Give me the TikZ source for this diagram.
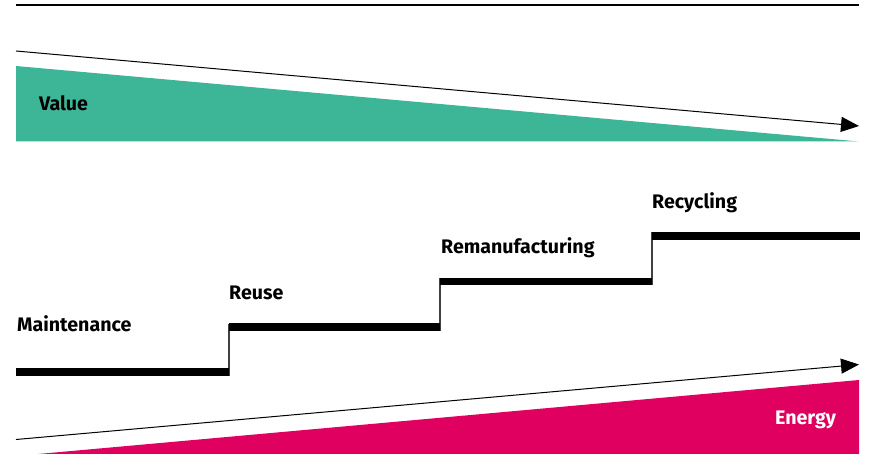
\documentclass[tikz,border=0pt]{standalone}
\usepackage{fontspec}
\setmainfont{Fira Sans}
\usetikzlibrary{arrows.meta}
\definecolor{teal}{HTML}{3DB698}
\definecolor{pink}{HTML}{E0005F}
\tikzset{
  lbl/.style={anchor=base west, inner sep=0pt, font=\fontsize{19.6}{19.6}\selectfont\bfseries},
  stepline/.style={line width=7.5pt},
  riser/.style={line width=1.6pt, black!75},
  trend/.style={line width=1pt, -{Triangle[length=18pt,width=15pt]}},
}
\begin{document}
\begin{tikzpicture}[x=1pt,y=-1pt]
\useasboundingbox (0,0) rectangle (869,454);
\begin{scope}
\clip (0,0) rectangle (869,454);
% top rule
\coordinate (r1) at (16,5.5);
\coordinate (r2) at (859,5.5);
\draw[line width=2pt] (r1) -- (r2);
% value
\fill[teal] (16,66) -- (859,141.5) -- (16,141.5) -- cycle;
\coordinate (va) at (16,51);
\coordinate (vb) at (859,126);
\draw[trend] (va) -- (vb);
\node[lbl] (value) at (39,111) {Value};
% energy
\fill[pink] (16,456) -- (859,380) -- (859,456) -- cycle;
\coordinate (ea) at (16,439.5);
\coordinate (eb) at (859,364.5);
\draw[trend] (ea) -- (eb);
\node[lbl, text=white] (energy) at (775,424) {Energy};
% steps
\coordinate (s0) at (16,372);
\coordinate (s1a) at (229,372);
\coordinate (s1b) at (229,327);
\coordinate (s2a) at (440,327);
\coordinate (s2b) at (440,281.5);
\coordinate (s3a) at (652,281.5);
\coordinate (s3b) at (652,236);
\coordinate (s4) at (860,236);
\draw[riser] (229,375.5) -- (229,323.5);
\draw[riser] (440,330.5) -- (440,278);
\draw[riser] (652,285) -- (652,232.5);
\draw[stepline] (s0) -- (s1a);
\draw[stepline] (s1b) -- (s2a);
\draw[stepline] (s2b) -- (s3a);
\draw[stepline] (s3b) -- (s4);
\node[lbl] (maint) at (17,331) {Maintenance};
\node[lbl] (reuse) at (229,299) {Reuse};
\node[lbl] (reman) at (441,254) {Remanufacturing};
\node[lbl] (recyc) at (652,209) {Recycling};
\end{scope}
\end{tikzpicture}
\end{document}
